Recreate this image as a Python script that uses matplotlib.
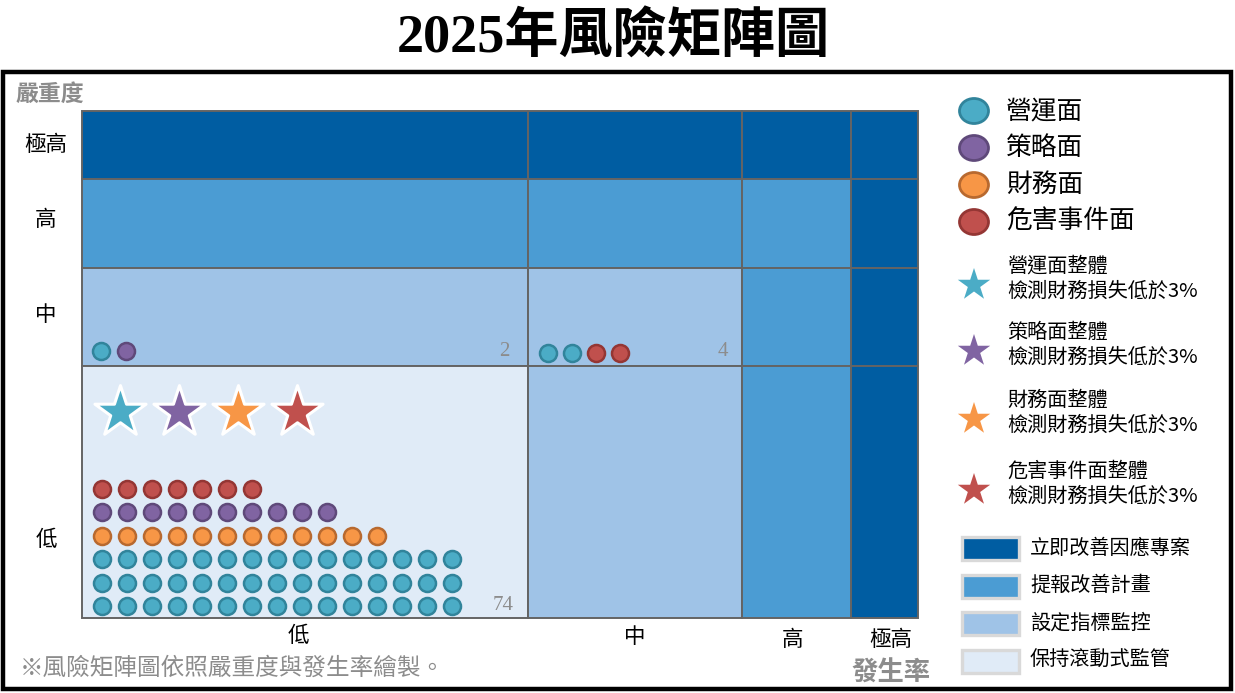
import matplotlib
matplotlib.use("Agg")
import matplotlib.pyplot as plt
from matplotlib.patches import Rectangle, Ellipse

plt.rcParams['font.family'] = ['Noto Sans CJK TC', 'DejaVu Sans']

# ---- data ----
title = "2025年風險矩陣圖"
likelihood_labels = ["低", "中", "高", "極高"]          # x axis (發生率)
severity_labels = ["極高", "高", "中", "低"]            # y axis, top -> bottom (嚴重度)

# response level of every cell, rows = severity (top->bottom), cols = likelihood
cell_level = [
    [0, 0, 0, 0],
    [1, 1, 1, 0],
    [2, 2, 1, 0],
    [3, 2, 1, 0],
]
level_names = ["立即改善因應專案", "提報改善計畫", "設定指標監控", "保持滾動式監管"]
level_colors = ["#005DA2", "#4B9CD3", "#9FC3E7", "#E0EBF7"]

categories = ["營運面", "策略面", "財務面", "危害事件面"]
cat_colors = ["#4BACC6", "#8064A2", "#F79646", "#C0504D"]
cat_edges = ["#31849B", "#5F497A", "#B8692F", "#943634"]

# number of risks per category in the cells that hold any
count_low_low = [45, 10, 12, 7]      # severity 低, likelihood 低
count_mid_low = [1, 1, 0, 0]         # severity 中, likelihood 低
count_mid_mid = [2, 0, 0, 2]         # severity 中, likelihood 中

star_labels = [c + "整體\n檢測財務損失低於3%" for c in categories]
footnote = "※風險矩陣圖依照嚴重度與發生率繪製。"

# ---- layout (pixels) ----
W, H = 1235, 693
col_edges = [82, 528, 742, 851, 918]
row_edges = [111, 179, 268, 366, 618]
grid_col = "#646464"
gray = "#8C8C8C"

fig = plt.figure(figsize=(W / 100, H / 100), dpi=100)
ax = fig.add_axes([0, 0, 1, 1])
ax.set_xlim(0, W)
ax.set_ylim(H, 0)
ax.axis("off")

ax.text(W / 2 - 4, 38, title, ha="center", va="center", fontsize=39, fontweight="bold",
        family=["Liberation Serif", "Noto Sans CJK TC"])
ax.add_patch(Rectangle((3, 72), 1228, 617, fill=False, ec="black", lw=3.2))

# cells
for r in range(4):
    for c in range(4):
        x0, x1 = col_edges[c], col_edges[c + 1]
        y0, y1 = row_edges[r], row_edges[r + 1]
        ax.add_patch(Rectangle((x0, y0), x1 - x0, y1 - y0,
                               fc=level_colors[cell_level[r][c]], ec=grid_col, lw=1.4))

# axis labels
ax.text(16, 94, "嚴重度", ha="left", va="center", fontsize=16.5, color=gray, fontweight="bold")
row_label_y = [145, 220, 315, 540]
for r, lab in enumerate(severity_labels):
    ax.text(46, row_label_y[r], lab, ha="center", va="center", fontsize=15.5)
col_label_y = [636, 637, 640, 640]
for c, lab in enumerate(likelihood_labels):
    ax.text((col_edges[c] + col_edges[c + 1]) / 2 + [-7, 0, -4, 6][c], col_label_y[c], lab,
            ha="center", va="center", fontsize=15.5)
ax.text(891, 673, "發生率", ha="center", va="center", fontsize=19, color=gray, fontweight="bold")
ax.text(20, 668, footnote, ha="left", va="center", fontsize=17, color=gray)


def draw_dots(counts, order, x_start, y_bottom, per_row=15, step=25, row_step=23.4,
              new_row_per_cat=True):
    slot = 0
    for k in order:
        n = counts[k]
        if n == 0:
            continue
        for i in range(n):
            pos = slot + i
            xi = x_start + (pos % per_row) * step
            yi = y_bottom - (pos // per_row) * row_step
            ax.scatter(xi, yi, s=150, c=cat_colors[k], edgecolors=cat_edges[k],
                       linewidths=1.8, zorder=4)
        slot += n
        if new_row_per_cat:
            slot = -(-slot // per_row) * per_row


draw_dots(count_low_low, [0, 2, 1, 3], 102, 606)
draw_dots(count_mid_low, [0, 1, 2, 3], 101, 351, new_row_per_cat=False)
draw_dots(count_mid_mid, [0, 1, 2, 3], 548, 353, step=24, new_row_per_cat=False)

serif = ["Liberation Serif", "DejaVu Serif"]
ax.text(514, 605, str(sum(count_low_low)), ha="right", va="center", fontsize=15,
        color=gray, family=serif)
ax.text(510, 352, str(sum(count_mid_low)), ha="right", va="center", fontsize=15,
        color=gray, family=serif)
ax.text(728, 352, str(sum(count_mid_mid)), ha="right", va="center", fontsize=15,
        color=gray, family=serif)

# overall stars in low/low cell
for k in range(4):
    ax.scatter(120 + k * 59, 412, s=1500, marker="*", c=cat_colors[k],
               edgecolors="white", linewidths=2.2, zorder=5)

# legend: categories
for k, name in enumerate(categories):
    y = 111 + k * 37
    ax.add_patch(Ellipse((974, y), 29, 25, fc=cat_colors[k], ec=cat_edges[k], lw=2))
    ax.text(1006, y, name, ha="left", va="center", fontsize=18.5)

# legend: stars
for k, lab in enumerate(star_labels):
    y = [285, 351, 419, 490][k]
    ax.scatter(974, y, s=600, marker="*", c=cat_colors[k], edgecolors="none", zorder=5)
    ax.text(1007, y - 6, lab, ha="left", va="center", fontsize=14.5, linespacing=1.25)

# legend: levels
for k, name in enumerate(level_names):
    y = 548 + k * 37.5
    ax.add_patch(Rectangle((962, y - 11), 57, 23, fc=level_colors[k], ec="#D9D9D9", lw=2.4))
    ax.text(1030, y, name, ha="left", va="center", fontsize=14.5)

fig.savefig("out.png", dpi=100)
